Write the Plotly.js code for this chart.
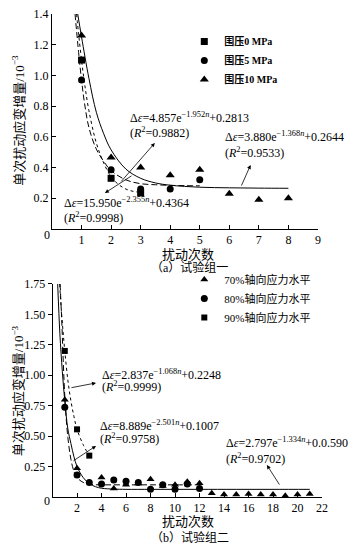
<!DOCTYPE html>
<html><head><meta charset="utf-8">
<script src="https://cdn.plot.ly/plotly-3.0.1.min.js"></script>
<style>html,body{margin:0;padding:0;background:#fff}#c{width:357px;height:547px}</style>
</head><body><div id="c"></div>
<script>
// ---- Group 1 (top): confining pressure ----
const a_n_sq = [1, 2, 3];
const a_v_sq = [1.10, 0.33, 0.235];
const a_n_ci = [1, 2, 3, 4, 5];
const a_v_ci = [0.97, 0.385, 0.26, 0.26, 0.32];
const a_n_tr = [1, 2, 3, 4, 5, 6, 7, 8];
const a_v_tr = [1.26, 0.465, 0.40, 0.35, 0.385, 0.23, 0.19, 0.20];
// fitted curves
const a_fit_tr_n = [0.87, 1, 1.25, 1.5, 1.75, 2, 2.5, 3, 3.5, 4, 5, 6, 7, 8];
const a_fit_tr_v = [1.40, 1.25, 0.98, 0.76, 0.62, 0.515, 0.39, 0.33, 0.30, 0.285, 0.272, 0.268, 0.266, 0.265];
const a_fit_ci_n = [0.78, 0.9, 1.0, 1.1, 1.25, 1.5, 1.75, 2, 2.5, 3, 3.5, 4, 4.5, 5];
const a_fit_ci_v = [1.40, 1.15, 0.97, 0.82, 0.66, 0.52, 0.44, 0.38, 0.32, 0.295, 0.288, 0.284, 0.282, 0.281];
const a_fit_sq_n = [0.83, 0.9, 1, 1.1, 1.25, 1.5, 1.75, 2, 2.25, 2.5, 2.75, 3];
const a_fit_sq_v = [1.40, 1.27, 1.10, 0.95, 0.77, 0.56, 0.43, 0.34, 0.29, 0.26, 0.245, 0.238];
const a_names = ["围压0 MPa", "围压5 MPa", "围压10 MPa"];
const a_xticks = [1, 2, 3, 4, 5, 6, 7, 8, 9];
const a_yticks = [0.2, 0.4, 0.6, 0.8, 1.0, 1.2, 1.4];

// ---- Group 2 (bottom): axial stress level ----
const b_n_tr = [1, 2, 4, 5, 6, 7, 8, 9, 10, 11, 12, 13, 14, 15, 16, 17, 18, 19, 20, 21];
const b_v_tr = [0.80, 0.236, 0.16, 0.07, 0.10, 0.11, 0.145, 0.09, 0.10, 0.125, 0.113, 0.03, 0.02, 0.02, 0.025, 0.02, 0.02, 0.01, 0.02, 0.025];
const b_n_ci = [1, 2, 3, 4, 5, 6, 7, 8, 9, 10, 11, 12];
const b_v_ci = [0.737, 0.18, 0.12, 0.107, 0.14, 0.13, 0.12, 0.063, 0.10, 0.063, 0.107, 0.07];
const b_n_sq = [1, 2, 3];
const b_v_sq = [1.20, 0.556, 0.34];
const b_fit_tr_n = [0.42, 0.6, 0.8, 1, 1.25, 1.5, 1.75, 2, 2.5, 3, 3.5, 4, 5, 6, 8, 10, 12, 15, 18, 21];
const b_fit_tr_v = [1.75, 1.34, 1.03, 0.79, 0.56, 0.44, 0.33, 0.25, 0.16, 0.11, 0.085, 0.072, 0.065, 0.063, 0.063, 0.063, 0.063, 0.063, 0.063, 0.063];
const b_fit_ci_n = [0.62, 0.75, 1, 1.25, 1.5, 1.75, 2, 2.5, 3, 3.5, 4, 5, 6, 8, 10, 12];
const b_fit_ci_v = [1.75, 1.45, 0.83, 0.49, 0.31, 0.21, 0.16, 0.12, 0.105, 0.101, 0.100, 0.100, 0.100, 0.100, 0.100, 0.100];
const b_fit_sq_n = [0.58, 0.7, 0.85, 1, 1.25, 1.5, 1.75, 2, 2.5, 3];
const b_fit_sq_v = [1.75, 1.56, 1.37, 1.20, 0.96, 0.79, 0.66, 0.556, 0.43, 0.34];
const b_names = ["70%轴向应力水平", "80%轴向应力水平", "90%轴向应力水平"];
const b_xticks = [2, 4, 6, 8, 10, 12, 14, 16, 18, 20, 22];
const b_yticks = [0.25, 0.50, 0.75, 1.00, 1.25, 1.50, 1.75];

const SERIF = "Liberation Serif, Times New Roman, serif";
const CJK = "Liberation Serif, Noto Sans CJK SC, serif";

function pts(x, y, sym, size, name, xa, ya, leg) {
  return {x: x, y: y, type: "scatter", mode: "markers", name: name,
    xaxis: xa, yaxis: ya, legend: leg, cliponaxis: false,
    marker: {symbol: sym, size: size, color: "#000"}};
}
function fit(x, y, dash, xa, ya) {
  return {x: x, y: y, type: "scatter", mode: "lines", showlegend: false,
    xaxis: xa, yaxis: ya, hoverinfo: "skip",
    line: {color: "#000", width: 1, dash: dash, shape: "spline"}};
}

const data = [
  fit(a_fit_tr_n, a_fit_tr_v, "solid", "x", "y"),
  fit(a_fit_ci_n, a_fit_ci_v, "6px,3px", "x", "y"),
  fit(a_fit_sq_n, a_fit_sq_v, "dot", "x", "y"),
  pts(a_n_sq, a_v_sq, "square", 7, a_names[0], "x", "y", "legend"),
  pts(a_n_ci, a_v_ci, "circle", 7, a_names[1], "x", "y", "legend"),
  pts(a_n_tr, a_v_tr, "triangle-up", 8, a_names[2], "x", "y", "legend"),
  fit(b_fit_tr_n, b_fit_tr_v, "solid", "x2", "y2"),
  fit(b_fit_ci_n, b_fit_ci_v, "6px,3px", "x2", "y2"),
  fit(b_fit_sq_n, b_fit_sq_v, "dot", "x2", "y2"),
  pts(b_n_tr, b_v_tr, "triangle-up", 7, b_names[0], "x2", "y2", "legend2"),
  pts(b_n_ci, b_v_ci, "circle", 7, b_names[1], "x2", "y2", "legend2"),
  pts(b_n_sq, b_v_sq, "square", 6, b_names[2], "x2", "y2", "legend2")
];

function ax(extra) {
  return Object.assign({showline: true, linecolor: "#000", linewidth: 1, showgrid: false,
    zeroline: false, ticks: "inside", ticklen: 4, tickcolor: "#000", tickwidth: 1,
    tickfont: {family: SERIF, size: 12, color: "#000"}, fixedrange: true}, extra);
}

function txt(x, y, xr, yr, t, opts) {
  return Object.assign({x: x, y: y, xref: xr, yref: yr, text: t, showarrow: false,
    xanchor: "left", yanchor: "middle", font: {family: SERIF, size: 12, color: "#000"}}, opts || {});
}
function arrow(hx, hy, tx, ty, xr, yr) {
  return {x: hx, y: hy, ax: tx, ay: ty, xref: xr, yref: yr, axref: xr, ayref: yr, text: "",
    showarrow: true, arrowhead: 2, arrowsize: 1, arrowwidth: 0.8, arrowcolor: "#000"};
}
const E = "Δ<i>ε</i>=";
const annotations = [
  txt(2.57, 0.723, "x", "y", E + "4.857e<sup>−1.952<i>n</i></sup>+0.2813"),
  txt(2.57, 0.625, "x", "y", "(<i>R</i><sup>2</sup>=0.9882)"),
  txt(0.34, 0.17, "x", "y", E + "15.950e<sup>−2.355<i>n</i></sup>+0.4364"),
  txt(0.34, 0.072, "x", "y", "(<i>R</i><sup>2</sup>=0.9998)"),
  txt(5.78, 0.60, "x", "y", E + "3.880e<sup>−1.368<i>n</i></sup>+0.2644"),
  txt(5.78, 0.495, "x", "y", "(<i>R</i><sup>2</sup>=0.9533)"),
  arrow(3.48, 0.56, 2.30, 0.30, "x", "y"),
  arrow(1.79, 0.234, 2.74, 0.352, "x", "y"),
  arrow(6.72, 0.417, 6.39, 0.273, "x", "y"),
  txt(3.88, 1.01, "x2", "y2", E + "2.837e<sup>−1.068<i>n</i></sup>+0.2248"),
  txt(3.88, 0.904, "x2", "y2", "(<i>R</i><sup>2</sup>=0.9999)"),
  txt(3.74, 0.59, "x2", "y2", E + "8.889e<sup>−2.501<i>n</i></sup>+0.1007"),
  txt(3.74, 0.477, "x2", "y2", "(<i>R</i><sup>2</sup>=0.9758)"),
  txt(13.96, 0.444, "x2", "y2", E + "2.797e<sup>−1.334<i>n</i></sup>+0.0.590"),
  txt(13.96, 0.32, "x2", "y2", "(<i>R</i><sup>2</sup>=0.9702)"),
  arrow(3.55, 0.937, 1.42, 0.896, "x2", "y2"),
  arrow(3.55, 0.42, 1.59, 0.29, "x2", "y2"),
  arrow(17.5, 0.263, 18.6, 0.09, "x2", "y2"),
  // origin labels
  txt(-0.0185, 0.547, "paper", "paper", "0", {xanchor: "center", font: {family: SERIF, size: 12, color: "#000"}}),
  txt(-0.0185, 0.012, "paper", "paper", "0", {xanchor: "center", font: {family: SERIF, size: 12, color: "#000"}}),
  // axis titles and captions
  txt(0.504, 0.508, "paper", "paper", "扰动次数", {xanchor: "center", font: {family: CJK, size: 13, color: "#000"}}),
  txt(0.504, -0.029, "paper", "paper", "扰动次数", {xanchor: "center", font: {family: CJK, size: 13, color: "#000"}}),
  txt(0.511, 0.482, "paper", "paper", "（a）试验组一", {xanchor: "center", font: {family: CJK, size: 12, color: "#000"}}),
  txt(0.511, -0.062, "paper", "paper", "（b）试验组二", {xanchor: "center", font: {family: CJK, size: 12, color: "#000"}}),
  txt(-0.126, 0.779, "paper", "paper", "单次扰动应变增量/10<sup>−3</sup>", {xanchor: "center", textangle: -90, font: {family: CJK, size: 13, color: "#000"}}),
  txt(-0.126, 0.235, "paper", "paper", "单次扰动应变增量/10<sup>−3</sup>", {xanchor: "center", textangle: -90, font: {family: CJK, size: 13, color: "#000"}})
];

const layout = {
  width: 357, height: 547, margin: {l: 52, r: 35, t: 10, b: 40},
  paper_bgcolor: "#fff", plot_bgcolor: "#fff", showlegend: true,
  font: {family: SERIF, color: "#000"},
  xaxis: ax({domain: [0, 0.985], range: [0, 9], tickvals: a_xticks, anchor: "y"}),
  yaxis: ax({domain: [0.5594, 0.992], range: [0, 1.4], tickvals: a_yticks, tickformat: ".1f", anchor: "x"}),
  xaxis2: ax({domain: [0.002, 1], range: [0, 22], tickvals: b_xticks, anchor: "y2"}),
  yaxis2: ax({domain: [0.0201, 0.4487], range: [0, 1.75], tickvals: b_yticks, tickformat: ".2f", anchor: "x2", ticks: "outside"}),
  legend: {x: 0.49, y: 0.966, xanchor: "left", yanchor: "top", bgcolor: "rgba(0,0,0,0)",
    font: {family: CJK, size: 10, color: "#000", weight: "bold"}, itemwidth: 30, tracegroupgap: 0},
  legend2: {x: 0.49, y: 0.487, xanchor: "left", yanchor: "top", bgcolor: "rgba(0,0,0,0)",
    font: {family: CJK, size: 11, color: "#000"}, itemwidth: 30, tracegroupgap: 0},
  annotations: annotations
};

Plotly.newPlot("c", data, layout, {displayModeBar: false, staticPlot: true});
</script>
</body></html>
